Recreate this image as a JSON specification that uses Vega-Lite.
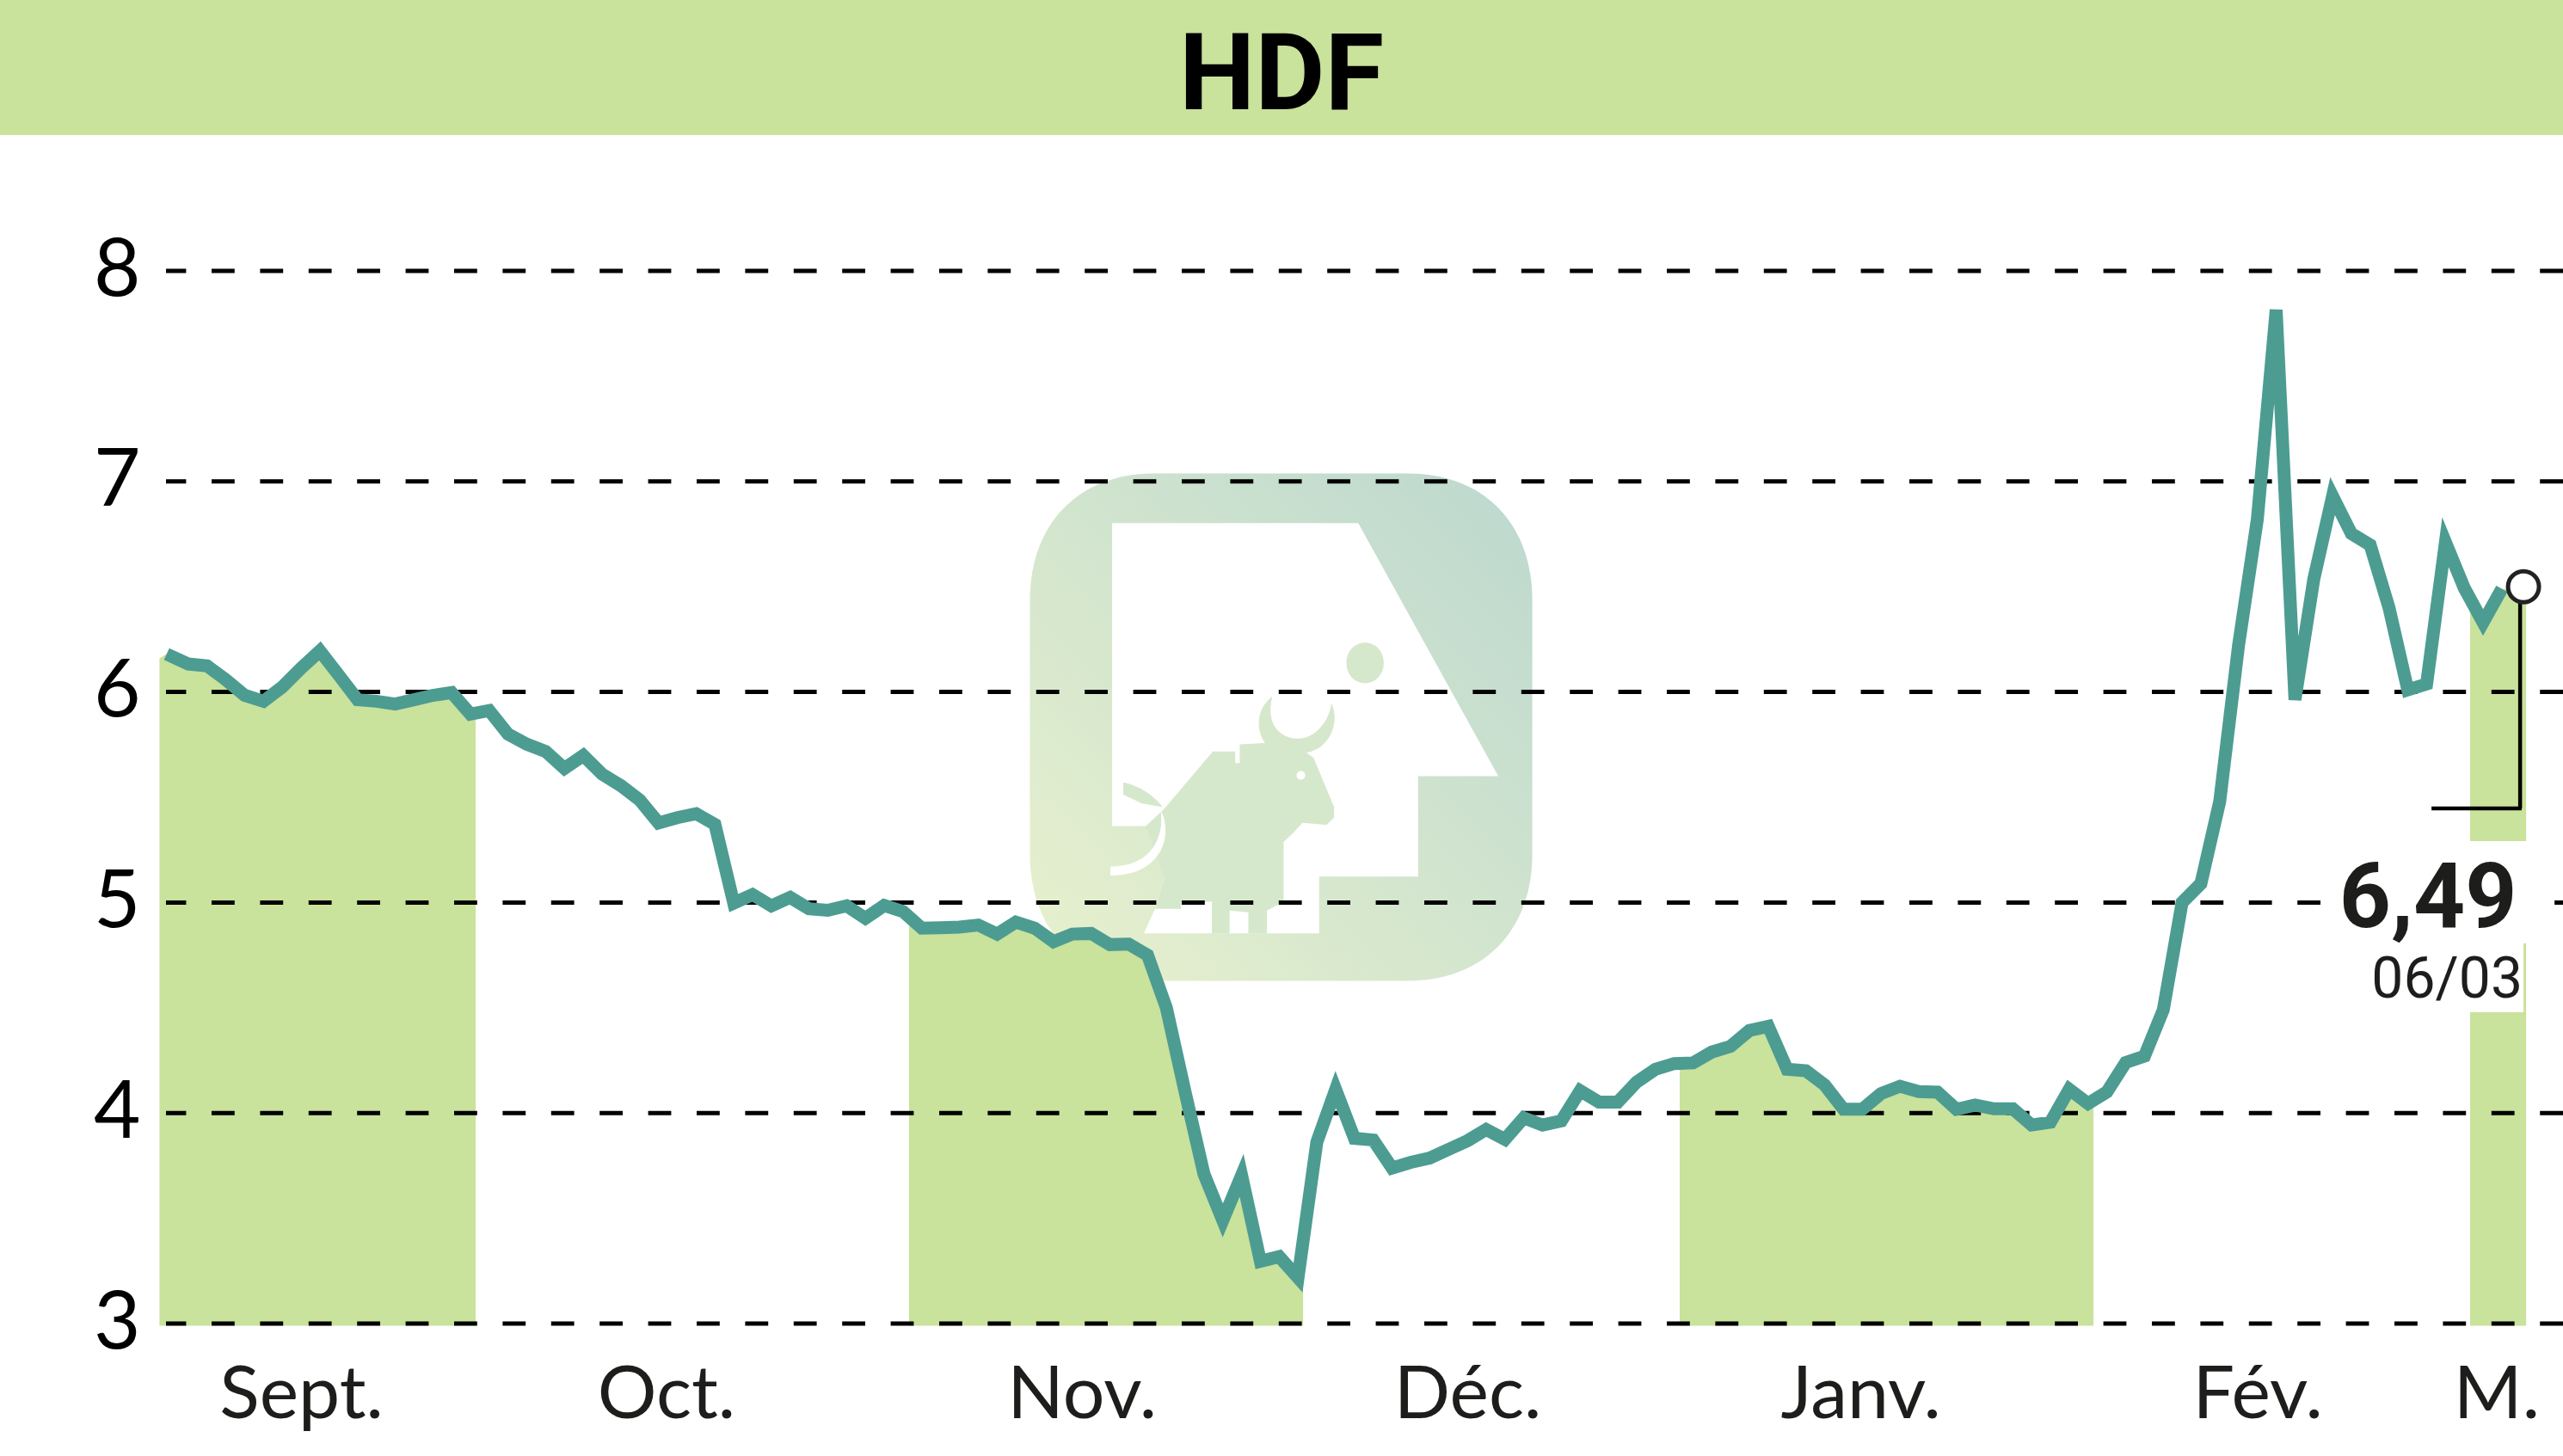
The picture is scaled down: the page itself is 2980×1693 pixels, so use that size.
{
  "$schema": "https://vega.github.io/schema/vega-lite/v6.json",
  "autosize": "none",
  "padding": {"left": 193, "top": 315, "right": 0, "bottom": 154},
  "width": 2787,
  "height": 1224,
  "background": "#ffffff",
  "config": {"view": {"stroke": null}},
  "datasets": {
    "prices": [
      {"d":-0.53,"v":6.16,"m":"Sept.","edge":true},
      {"d":-0.15,"v":6.18,"m":"Sept."},{"d":1,"v":6.133,"m":"Sept."},{"d":2,"v":6.124,"m":"Sept."},{"d":3,"v":6.058,"m":"Sept."},{"d":4,"v":5.984,"m":"Sept."},
      {"d":5,"v":5.956,"m":"Sept."},{"d":6,"v":6.024,"m":"Sept."},{"d":7,"v":6.113,"m":"Sept."},{"d":8,"v":6.195,"m":"Sept."},{"d":9,"v":6.08,"m":"Sept."},
      {"d":10,"v":5.963,"m":"Sept."},{"d":11,"v":5.956,"m":"Sept."},{"d":12,"v":5.943,"m":"Sept."},{"d":13,"v":5.963,"m":"Sept."},{"d":14,"v":5.984,"m":"Sept."},
      {"d":15,"v":5.997,"m":"Sept."},{"d":16,"v":5.895,"m":"Sept."},
      {"d":16.28,"v":5.9,"m":"Sept.","edge":true},
      {"d":17,"v":5.912,"m":"Oct."},{"d":18,"v":5.8,"m":"Oct."},{"d":19,"v":5.752,"m":"Oct."},{"d":20,"v":5.718,"m":"Oct."},{"d":21,"v":5.637,"m":"Oct."},
      {"d":22,"v":5.698,"m":"Oct."},{"d":23,"v":5.61,"m":"Oct."},{"d":24,"v":5.555,"m":"Oct."},{"d":25,"v":5.487,"m":"Oct."},{"d":26,"v":5.378,"m":"Oct."},
      {"d":27,"v":5.403,"m":"Oct."},{"d":28,"v":5.422,"m":"Oct."},{"d":29,"v":5.371,"m":"Oct."},{"d":30,"v":4.997,"m":"Oct."},{"d":31,"v":5.038,"m":"Oct."},
      {"d":32,"v":4.984,"m":"Oct."},{"d":33,"v":5.024,"m":"Oct."},{"d":34,"v":4.97,"m":"Oct."},{"d":35,"v":4.963,"m":"Oct."},{"d":36,"v":4.984,"m":"Oct."},
      {"d":37,"v":4.925,"m":"Oct."},{"d":38,"v":4.986,"m":"Oct."},{"d":39,"v":4.957,"m":"Oct."},
      {"d":39.32,"v":4.93,"m":"Nov.","edge":true},
      {"d":40,"v":4.878,"m":"Nov."},{"d":41,"v":4.88,"m":"Nov."},{"d":42,"v":4.883,"m":"Nov."},{"d":43,"v":4.893,"m":"Nov."},{"d":44,"v":4.85,"m":"Nov."},
      {"d":45,"v":4.907,"m":"Nov."},{"d":46,"v":4.878,"m":"Nov."},{"d":47,"v":4.814,"m":"Nov."},{"d":48,"v":4.85,"m":"Nov."},{"d":49,"v":4.853,"m":"Nov."},
      {"d":50,"v":4.8,"m":"Nov."},{"d":51,"v":4.802,"m":"Nov."},{"d":52,"v":4.75,"m":"Nov."},{"d":53,"v":4.5,"m":"Nov."},{"d":54,"v":4.098,"m":"Nov."},
      {"d":55,"v":3.71,"m":"Nov."},{"d":56,"v":3.49,"m":"Nov."},{"d":57,"v":3.704,"m":"Nov."},{"d":58,"v":3.296,"m":"Nov."},{"d":59,"v":3.318,"m":"Nov."},
      {"d":60,"v":3.218,"m":"Nov."},
      {"d":60.27,"v":3.39,"m":"Nov.","edge":true},
      {"d":61,"v":3.862,"m":"Déc."},{"d":62,"v":4.112,"m":"Déc."},{"d":63,"v":3.88,"m":"Déc."},{"d":64,"v":3.872,"m":"Déc."},{"d":65,"v":3.739,"m":"Déc."},
      {"d":66,"v":3.766,"m":"Déc."},{"d":67,"v":3.786,"m":"Déc."},{"d":68,"v":3.827,"m":"Déc."},{"d":69,"v":3.868,"m":"Déc."},{"d":70,"v":3.922,"m":"Déc."},
      {"d":71,"v":3.875,"m":"Déc."},{"d":72,"v":3.977,"m":"Déc."},{"d":73,"v":3.943,"m":"Déc."},{"d":74,"v":3.963,"m":"Déc."},{"d":75,"v":4.106,"m":"Déc."},
      {"d":76,"v":4.052,"m":"Déc."},{"d":77,"v":4.052,"m":"Déc."},{"d":78,"v":4.147,"m":"Déc."},{"d":79,"v":4.208,"m":"Déc."},{"d":80,"v":4.235,"m":"Déc."},
      {"d":80.29,"v":4.236,"m":"Janv.","edge":true},
      {"d":81,"v":4.238,"m":"Janv."},{"d":82,"v":4.29,"m":"Janv."},{"d":83,"v":4.317,"m":"Janv."},{"d":84,"v":4.392,"m":"Janv."},{"d":85,"v":4.412,"m":"Janv."},
      {"d":86,"v":4.208,"m":"Janv."},{"d":87,"v":4.201,"m":"Janv."},{"d":88,"v":4.133,"m":"Janv."},{"d":89,"v":4.018,"m":"Janv."},{"d":90,"v":4.018,"m":"Janv."},
      {"d":91,"v":4.093,"m":"Janv."},{"d":92,"v":4.127,"m":"Janv."},{"d":93,"v":4.102,"m":"Janv."},{"d":94,"v":4.099,"m":"Janv."},{"d":95,"v":4.018,"m":"Janv."},
      {"d":96,"v":4.038,"m":"Janv."},{"d":97,"v":4.02,"m":"Janv."},{"d":98,"v":4.02,"m":"Janv."},{"d":99,"v":3.943,"m":"Janv."},{"d":100,"v":3.956,"m":"Janv."},
      {"d":101,"v":4.113,"m":"Janv."},{"d":102,"v":4.045,"m":"Janv."},
      {"d":102.29,"v":4.06,"m":"Janv.","edge":true},
      {"d":103,"v":4.1,"m":"Fév."},{"d":104,"v":4.24,"m":"Fév."},{"d":105,"v":4.27,"m":"Fév."},{"d":106,"v":4.49,"m":"Fév."},{"d":107,"v":5.0,"m":"Fév."},
      {"d":108,"v":5.09,"m":"Fév."},{"d":109,"v":5.48,"m":"Fév."},{"d":110,"v":6.22,"m":"Fév."},{"d":111,"v":6.82,"m":"Fév."},{"d":112,"v":7.815,"m":"Fév."},
      {"d":113,"v":5.963,"m":"Fév."},{"d":114,"v":6.535,"m":"Fév."},{"d":115,"v":6.93,"m":"Fév."},{"d":116,"v":6.752,"m":"Fév."},{"d":117,"v":6.698,"m":"Fév."},
      {"d":118,"v":6.4,"m":"Fév."},{"d":119,"v":6.01,"m":"Fév."},{"d":120,"v":6.038,"m":"Fév."},{"d":121,"v":6.712,"m":"Fév."},{"d":122,"v":6.494,"m":"Fév."},
      {"d":122.31,"v":6.45,"m":"M.","edge":true},
      {"d":123,"v":6.33,"m":"M."},{"d":124,"v":6.49,"m":"M."},
      {"d":125.29,"v":6.49,"m":"M.","edge":true}
    ]
  },
  "encoding": {
    "x": {
      "field": "d",
      "type": "quantitative",
      "scale": {"domain": [-0.183, 127.25], "nice": false, "zero": false},
      "axis": {
        "title": null,
        "domain": false,
        "ticks": false,
        "grid": false,
        "values": [7, 26.4, 48.5, 69, 89.9, 111, 123.7],
        "labelExpr": "['Sept.','Oct.','Nov.','Déc.','Janv.','Fév.','M.'][indexof([7,26.4,48.5,69,89.9,111,123.7],datum.value)]",
        "labelFont": "Lato",
        "labelFontSize": 86,
        "labelColor": "#1d1d1b",
        "labelBaseline": "alphabetic",
        "labelPadding": 109,
        "labelLimit": 600,
        "labelFlush": false,
        "labelOverlap": false,
        "labelBound": false
      }
    },
    "y": {
      "field": "v",
      "type": "quantitative",
      "scale": {"domain": [3, 8], "nice": false, "zero": false},
      "axis": {
        "title": null,
        "domain": false,
        "ticks": false,
        "grid": false,
        "values": [3, 4, 5, 6, 7, 8],
        "labelFont": "Lato",
        "labelFontSize": 94,
        "labelColor": "#000000",
        "labelPadding": 30,
        "labelLimit": 300,
        "labelOverlap": false,
        "labelBound": false,
        "labelFlush": false
      }
    }
  },
  "layer": [
    {
      "data": {"values": [{"d": -9.008, "d2": 127.25, "v": 8.645, "v2": 9.287}]},
      "mark": {"type": "rect", "color": "#c9e29c"},
      "encoding": {"x2": {"field": "d2"}, "y2": {"field": "v2"}}
    },
    {
      "data": {"values": [{"d": 59.1, "v": 5.833, "name": "HDF"}]},
      "layer": [
        {
          "mark": {
            "type": "point",
            "filled": true,
            "opacity": 1,
            "size": 348100,
            "shape": "M-0.5,-1 L0.5,-1 C0.8,-1 0.99,-0.8 0.99,-0.5 L0.99,0.5 C0.99,0.8 0.8,1 0.5,1 L-0.5,1 C-0.8,1 -0.99,0.8 -0.99,0.5 L-0.99,-0.5 C-0.99,-0.8 -0.8,-1 -0.5,-1 Z",
            "fill": {"gradient": "linear", "x1": 0, "y1": 1, "x2": 1, "y2": 0, "stops": [{"offset": 0, "color": "#e8f1cd"}, {"offset": 1, "color": "#bcd8cf"}]}
          }
        },
        {
          "mark": {
            "type": "point",
            "filled": true,
            "opacity": 1,
            "size": 348100,
            "color": "#ffffff",
            "shape": "M-0.666,-0.804 L0.304,-0.804 L0.856,0.193 L0.54,0.193 L0.54,0.589 L0.15,0.589 L0.15,0.813 L-0.541,0.813 L-0.497,0.716 L-0.46,0.592 L-0.46,0.39 L-0.666,0.39 Z"
          }
        },
        {
          "mark": {
            "type": "point",
            "filled": true,
            "opacity": 1,
            "size": 348100,
            "fill": "#d6e8cc",
            "shape": "M-0.46,0.321 L-0.269,0.096 L-0.181,0.096 L-0.181,0.142 L-0.163,0.142 L-0.163,0.068 L-0.063,0.063 C-0.1,0.01 -0.1,-0.07 -0.034,-0.122 C-0.06,-0.03 -0.02,0.045 0.07,0.045 C0.13,0.045 0.19,-0.02 0.198,-0.094 C0.235,-0.02 0.19,0.09 0.099,0.1 L0.128,0.121 L0.209,0.315 L0.209,0.356 L0.179,0.386 L0.084,0.377 L0.047,0.418 L0.01,0.453 L0.01,0.688 L-0.056,0.723 L-0.056,0.813 L-0.129,0.813 L-0.129,0.73 L-0.203,0.723 L-0.203,0.813 L-0.273,0.813 L-0.273,0.688 L-0.394,0.688 L-0.394,0.716 L-0.497,0.716 L-0.46,0.592 L-0.533,0.39 Z M-0.622,0.218 C-0.519,0.239 -0.467,0.315 -0.467,0.315 L-0.548,0.301 L-0.622,0.266 Z M0.2575,-0.253 C0.2575,-0.3 0.29,-0.333 0.331,-0.333 C0.372,-0.333 0.4045,-0.3 0.4045,-0.253 C0.4045,-0.206 0.372,-0.173 0.331,-0.173 C0.29,-0.173 0.2575,-0.206 0.2575,-0.253 Z"
          }
        },
        {
          "mark": {
            "type": "point",
            "filled": true,
            "opacity": 1,
            "size": 348100,
            "color": "#ffffff",
            "shape": "M-0.475,0.328 C-0.43,0.4 -0.45,0.585 -0.673,0.585 L-0.673,0.55 C-0.5,0.55 -0.46,0.42 -0.475,0.328 Z M0.061,0.19 C0.061,0.18 0.068,0.173 0.078,0.173 C0.088,0.173 0.095,0.18 0.095,0.19 C0.095,0.2 0.088,0.207 0.078,0.207 C0.068,0.207 0.061,0.2 0.061,0.19 Z"
          }
        }
      ]
    },
    {
      "data": {"name": "prices"},
      "transform": [{"filter": "datum.m == 'Sept.' || datum.m == 'Nov.' || datum.m == 'Janv.' || datum.m == 'M.'"}],
      "mark": {"type": "area", "color": "#c9e29c", "opacity": 1},
      "encoding": {
        "y2": {"datum": 2.99},
        "detail": {"field": "m"}
      }
    },
    {
      "data": {"values": [{"v": 3}, {"v": 4}, {"v": 5}, {"v": 6}, {"v": 7}, {"v": 8}]},
      "mark": {"type": "rule", "color": "#000000", "strokeWidth": 5, "strokeDash": [26.8, 29.6]},
      "encoding": {"x": null}
    },
    {
      "data": {"values": [
        {"d": 114.36, "d2": 126.8, "v": 5.292, "v2": 4.806},
        {"d": 116.3, "d2": 125.15, "v": 4.806, "v2": 4.479}
      ]},
      "mark": {"type": "rect", "color": "#ffffff"},
      "encoding": {"x2": {"field": "d2"}, "y2": {"field": "v2"}}
    },
    {
      "data": {"name": "prices"},
      "transform": [{"filter": "!datum.edge"}],
      "mark": {"type": "line", "color": "#4d9c92", "strokeWidth": 15, "strokeJoin": "miter", "strokeMiterLimit": 4}
    },
    {
      "data": {"values": [
        {"d": 124.97, "d2": 124.97, "v": 6.49, "v2": 5.447},
        {"d": 120.26, "d2": 125.05, "v": 5.447, "v2": 5.447}
      ]},
      "mark": {"type": "rule", "color": "#000000", "strokeWidth": 4.5},
      "encoding": {"x2": {"field": "d2"}, "y2": {"field": "v2"}}
    },
    {
      "data": {"values": [{"d": 125.15, "v": 6.5}]},
      "mark": {"type": "point", "filled": true, "shape": "circle", "size": 1296, "fill": "#ffffff", "stroke": "#222222", "strokeWidth": 5, "opacity": 1}
    },
    {
      "data": {"values": [{"d": 59.12, "v": 8.768, "label": "HDF"}]},
      "mark": {"type": "text", "font": "Roboto", "fontWeight": "bold", "fontSize": 125, "align": "center", "baseline": "alphabetic", "color": "#000000"},
      "encoding": {"text": {"field": "label"}}
    },
    {
      "data": {"values": [{"d": 124.8, "v": 4.884, "label": "6,49"}]},
      "mark": {"type": "text", "font": "Roboto", "fontWeight": "bold", "fontSize": 105, "align": "right", "baseline": "alphabetic", "color": "#1d1d1b"},
      "encoding": {"text": {"field": "label"}}
    },
    {
      "data": {"values": [{"d": 125.1, "v": 4.55, "label": "06/03"}]},
      "mark": {"type": "text", "font": "Roboto", "fontSize": 66, "align": "right", "baseline": "alphabetic", "color": "#1d1d1b"},
      "encoding": {"text": {"field": "label"}}
    }
  ]
}
